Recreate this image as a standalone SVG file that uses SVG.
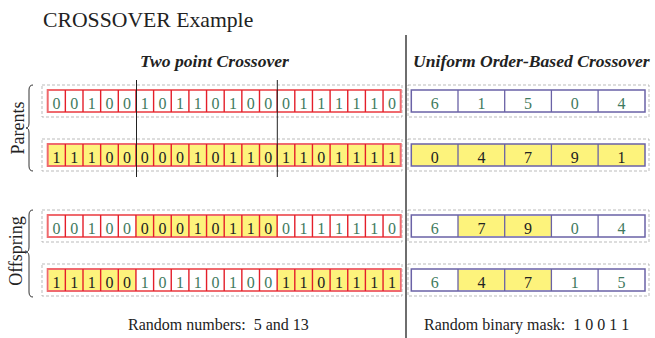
<svg xmlns="http://www.w3.org/2000/svg" width="655" height="338" viewBox="0 0 655 338">
<style>
text{font-family:"Liberation Serif","Times New Roman",serif}
.t{font-size:21.7px;fill:#222}
.h{font-size:17.6px;font-weight:bold;font-style:italic;fill:#222}
.lab{font-size:18px;fill:#222}
.b{font-size:16px;fill:#222}
.d{font-size:16px;text-anchor:middle}
.g{fill:#3f7a5e}
.k{fill:#222}
.dash{fill:none;stroke:#aaa;stroke-width:0.8;stroke-dasharray:3 2}
.rc{stroke:#ef6a6e;stroke-width:2}
.rd{fill:none;stroke:#e41e2a;stroke-width:1.4}
.pc{stroke:#6a62a6;stroke-width:1.5}
.pd{fill:none;stroke:#6a62a6;stroke-width:1.3}
.yel{fill:#fdf37c}
.wht{fill:#fff}
.brace{fill:none;stroke:#333;stroke-width:1}
</style>

<rect width="655" height="338" fill="#fff"/>

<text class="t" x="43" y="27">CROSSOVER Example</text>
<text class="h" x="140" y="67">Two point Crossover</text>
<text class="h" x="413" y="67">Uniform Order-Based Crossover</text>

<g id="label-parents">
<path class="brace" d="M33,85 Q29,85 29,90 L29,123 Q29,128 26,128 Q29,128 29,133 L29,166 Q29,171 33,171"/>
<text class="lab" transform="translate(24,128) rotate(-90)" text-anchor="middle">Parents</text>
</g>
<g id="label-offspring">
<path class="brace" d="M33,210 Q29,210 29,215 L29,247 Q29,252 26,252 Q29,252 29,257 L29,292 Q29,297 33,297"/>
<text class="lab" transform="translate(22,251) rotate(-90)" text-anchor="middle">Offspring</text>
</g>

<!-- Two point crossover: parent 1 -->
<g id="tp-parent1">
<rect class="dash" x="42" y="85" width="360" height="32"/>
<rect class="rc wht" x="47.7" y="90" width="353" height="22"/>
<path class="rd" d="M65.35,90V112M83,90V112M100.65,90V112M118.3,90V112M135.95,90V112M153.6,90V112M171.25,90V112M188.9,90V112M206.55,90V112M224.2,90V112M241.85,90V112M259.5,90V112M277.15,90V112M294.8,90V112M312.45,90V112M330.1,90V112M347.75,90V112M365.4,90V112M383.05,90V112"/>
<g class="d g">
<text x="56.5" y="109">0</text><text x="74.2" y="109">0</text><text x="91.8" y="109">1</text><text x="109.5" y="109">0</text><text x="127.1" y="109">0</text>
<text x="144.8" y="109">1</text><text x="162.4" y="109">0</text><text x="180.1" y="109">1</text><text x="197.7" y="109">1</text><text x="215.4" y="109">0</text><text x="233" y="109">1</text><text x="250.7" y="109">0</text><text x="268.3" y="109">0</text>
<text x="286" y="109">0</text><text x="303.6" y="109">1</text><text x="321.3" y="109">1</text><text x="338.9" y="109">1</text><text x="356.6" y="109">1</text><text x="374.2" y="109">1</text><text x="391.9" y="109">0</text>
</g>
</g>

<!-- parent 2 -->
<g id="tp-parent2">
<rect class="dash" x="42" y="139" width="360" height="32"/>
<rect class="rc yel" x="47.7" y="144" width="353" height="22"/>
<path class="rd" d="M65.35,144V166M83,144V166M100.65,144V166M118.3,144V166M135.95,144V166M153.6,144V166M171.25,144V166M188.9,144V166M206.55,144V166M224.2,144V166M241.85,144V166M259.5,144V166M277.15,144V166M294.8,144V166M312.45,144V166M330.1,144V166M347.75,144V166M365.4,144V166M383.05,144V166"/>
<g class="d k">
<text x="56.5" y="163">1</text><text x="74.2" y="163">1</text><text x="91.8" y="163">1</text><text x="109.5" y="163">0</text><text x="127.1" y="163">0</text>
<text x="144.8" y="163">0</text><text x="162.4" y="163">0</text><text x="180.1" y="163">0</text><text x="197.7" y="163">1</text><text x="215.4" y="163">0</text><text x="233" y="163">1</text><text x="250.7" y="163">1</text><text x="268.3" y="163">0</text>
<text x="286" y="163">1</text><text x="303.6" y="163">1</text><text x="321.3" y="163">0</text><text x="338.9" y="163">1</text><text x="356.6" y="163">1</text><text x="374.2" y="163">1</text><text x="391.9" y="163">1</text>
</g>
</g>

<!-- offspring 1 -->
<g id="tp-offspring1">
<rect class="dash" x="42" y="210" width="360" height="32"/>
<rect class="rc wht" x="47.7" y="215" width="353" height="22"/>
<rect class="yel" x="135.95" y="216" width="141.2" height="20"/>
<path class="rd" d="M65.35,215V237M83,215V237M100.65,215V237M118.3,215V237M135.95,215V237M153.6,215V237M171.25,215V237M188.9,215V237M206.55,215V237M224.2,215V237M241.85,215V237M259.5,215V237M277.15,215V237M294.8,215V237M312.45,215V237M330.1,215V237M347.75,215V237M365.4,215V237M383.05,215V237"/>
<g class="d g">
<text x="56.5" y="234">0</text><text x="74.2" y="234">0</text><text x="91.8" y="234">1</text><text x="109.5" y="234">0</text><text x="127.1" y="234">0</text>
</g>
<g class="d k">
<text x="144.8" y="234">0</text><text x="162.4" y="234">0</text><text x="180.1" y="234">0</text><text x="197.7" y="234">1</text><text x="215.4" y="234">0</text><text x="233" y="234">1</text><text x="250.7" y="234">1</text><text x="268.3" y="234">0</text>
</g>
<g class="d g">
<text x="286" y="234">0</text><text x="303.6" y="234">1</text><text x="321.3" y="234">1</text><text x="338.9" y="234">1</text><text x="356.6" y="234">1</text><text x="374.2" y="234">1</text><text x="391.9" y="234">0</text>
</g>
</g>

<!-- offspring 2 -->
<g id="tp-offspring2">
<rect class="dash" x="42" y="264" width="360" height="32"/>
<rect class="rc wht" x="47.7" y="269" width="353" height="22"/>
<rect class="yel" x="48.7" y="270" width="87.25" height="20"/>
<rect class="yel" x="277.15" y="270" width="122.55" height="20"/>
<path class="rd" d="M65.35,269V291M83,269V291M100.65,269V291M118.3,269V291M135.95,269V291M153.6,269V291M171.25,269V291M188.9,269V291M206.55,269V291M224.2,269V291M241.85,269V291M259.5,269V291M277.15,269V291M294.8,269V291M312.45,269V291M330.1,269V291M347.75,269V291M365.4,269V291M383.05,269V291"/>
<g class="d k">
<text x="56.5" y="288">1</text><text x="74.2" y="288">1</text><text x="91.8" y="288">1</text><text x="109.5" y="288">0</text><text x="127.1" y="288">0</text>
</g>
<g class="d g">
<text x="144.8" y="288">1</text><text x="162.4" y="288">0</text><text x="180.1" y="288">1</text><text x="197.7" y="288">1</text><text x="215.4" y="288">0</text><text x="233" y="288">1</text><text x="250.7" y="288">0</text><text x="268.3" y="288">0</text>
</g>
<g class="d k">
<text x="286" y="288">1</text><text x="303.6" y="288">1</text><text x="321.3" y="288">0</text><text x="338.9" y="288">1</text><text x="356.6" y="288">1</text><text x="374.2" y="288">1</text><text x="391.9" y="288">1</text>
</g>
</g>

<!-- Uniform order-based: parent 1 -->
<g id="ob-parent1">
<rect class="dash" x="408" y="85" width="241" height="32"/>
<rect class="pc wht" x="411.3" y="90" width="233.7" height="22"/>
<path class="pd" d="M458,90V112M504.7,90V112M551.4,90V112M598.1,90V112"/>
<g class="d g">
<text x="434.7" y="109">6</text><text x="481.4" y="109">1</text><text x="528" y="109">5</text><text x="574.8" y="109">0</text><text x="621.5" y="109">4</text>
</g>
</g>
<g id="ob-parent2">
<rect class="dash" x="408" y="139" width="241" height="32"/>
<rect class="pc yel" x="411.3" y="144" width="233.7" height="22"/>
<path class="pd" d="M458,144V166M504.7,144V166M551.4,144V166M598.1,144V166"/>
<g class="d k">
<text x="434.7" y="163">0</text><text x="481.4" y="163">4</text><text x="528" y="163">7</text><text x="574.8" y="163">9</text><text x="621.5" y="163">1</text>
</g>
</g>
<g id="ob-offspring1">
<rect class="dash" x="408" y="210" width="241" height="32"/>
<rect class="pc wht" x="411.3" y="215" width="233.7" height="22"/>
<rect class="yel" x="458" y="216" width="93.4" height="20"/>
<path class="pd" d="M458,215V237M504.7,215V237M551.4,215V237M598.1,215V237"/>
<text class="d g" x="434.7" y="234">6</text><text class="d k" x="481.4" y="234">7</text><text class="d k" x="528" y="234">9</text><text class="d g" x="574.8" y="234">0</text><text class="d g" x="621.5" y="234">4</text>
</g>
<g id="ob-offspring2">
<rect class="dash" x="408" y="264" width="241" height="32"/>
<rect class="pc wht" x="411.3" y="269" width="233.7" height="22"/>
<rect class="yel" x="458" y="270" width="93.4" height="20"/>
<path class="pd" d="M458,269V291M504.7,269V291M551.4,269V291M598.1,269V291"/>
<text class="d g" x="434.7" y="288">6</text><text class="d k" x="481.4" y="288">4</text><text class="d k" x="528" y="288">7</text><text class="d g" x="574.8" y="288">1</text><text class="d g" x="621.5" y="288">5</text>
</g>

<g id="connectors">
<path d="M136.5,80V177M277.3,80V177" stroke="#222" stroke-width="1" fill="none"/>
<path d="M406,35V338" stroke="#6e6e6e" stroke-width="2" fill="none"/>
</g>

<text class="b" x="128" y="330" xml:space="preserve">Random numbers:  5 and 13</text>
<text class="b" x="424" y="330" xml:space="preserve">Random binary mask:  1 0 0 1 1</text>
</svg>
